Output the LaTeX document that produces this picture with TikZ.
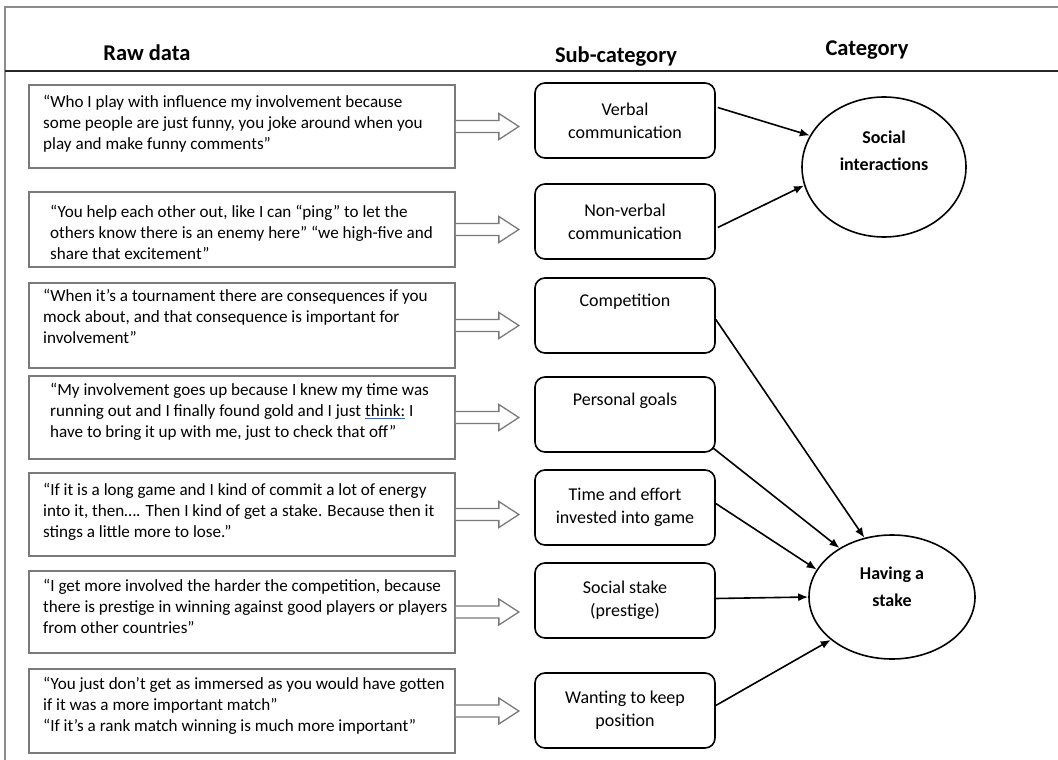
\documentclass[tikz,border=0pt]{standalone}
\usepackage{fontspec}
\setmainfont{Carlito}
\usetikzlibrary{calc,shapes.geometric,arrows.meta}

\definecolor{framegray}{HTML}{8C8C8C}
\definecolor{boxgray}{HTML}{7A7A7A}
\definecolor{markblue}{HTML}{3F64B0}

% word with a thin blue underline
\newsavebox\markbox
\newcommand\markword[1]{\sbox\markbox{#1}%
  \rlap{\color{markblue}\rule[-2.6pt]{\wd\markbox}{1pt}}\usebox\markbox}

% block arrow leaving the east side of a quotation box
\newcommand\rawarrow[1]{%
  \draw[blockarrow] ($(#1.east)+(0,-6)$) -- ++(43,0) -- ++(0,-7)
    -- ++(20,13) -- ++(-20,13) -- ++(0,-7) -- ++(-43,0);}

\tikzset{
  head/.style={font=\bfseries\fontsize{22.5}{26}\selectfont, inner sep=0pt},
  rawbox/.style={draw=boxgray, line width=1.7pt, minimum width=426pt,
    minimum height=#1, inner sep=0pt},
  rawtext/.style={anchor=west, align=left, inner sep=0pt,
    font=\fontsize{17.1}{21}\selectfont},
  blockarrow/.style={draw=boxgray, line width=1.3pt, line join=miter, fill=white},
  subbox/.style={draw, line width=1.6pt, rounded corners=10pt,
    minimum width=180pt, minimum height=75pt, inner sep=0pt, align=center,
    font=\fontsize{18}{23}\selectfont},
  catell/.style={draw, ellipse, line width=1.6pt, inner sep=0pt},
  cattext/.style={inner sep=0pt, align=center,
    font=\bfseries\fontsize{18}{27}\selectfont},
  link/.style={-{Latex[length=10pt,width=8pt]}, line width=1.6pt},
}

\begin{document}
\begin{tikzpicture}[x=1pt,y=-1pt]
  \useasboundingbox (0,0) rectangle (1058,760);

  % frame and header rule
  \draw[framegray, line width=2pt] (5,760) -- (5,7) -- (1058,7);
  \draw[black!85, line width=1.3pt] (5,71) -- (1058,71);

  % column headings
  \node[head] (hraw) at (147,53) {Raw data};
  \node[head] (hsub) at (616,57) {Sub-category};
  \node[head] (hcat) at (867,50) {Category};

  % quotation boxes
  \node[rawbox=83pt] (r1) at (242,126.5) {};
  \node[rawbox=75pt] (r2) at (242,229.5) {};
  \node[rawbox=85pt] (r3) at (242,325.5) {};
  \node[rawbox=83pt] (r4) at (242,417.5) {};
  \node[rawbox=83pt] (r5) at (242,514.5) {};
  \node[rawbox=82pt] (r6) at (242,612) {};
  \node[rawbox=84pt] (r7) at (242,711) {};

  \node[rawtext] (t1) at (43,124) {“Who I play with influence my involvement because\\some people are just funny, you joke around when you\\play and make funny comments”};
  \node[rawtext] (t2) at (50,232) {“You help each other out, like I can “ping” to let the\\others know there is an enemy here” “we high-five and\\share that excitement”};
  \node[rawtext] (t3) at (43,316) {“When it’s a tournament there are consequences if you\\mock about, and that consequence is important for\\involvement”};
  \node[rawtext] (t4) at (50,412) {“My involvement goes up because I knew my time was\\running out and I finally found gold and I just \markword{think:} I\\have to bring it up with me, just to check that off”};
  \node[rawtext] (t5) at (43,512) {“If it is a long game and I kind of commit a lot of energy\\into it, then…. Then I kind of get a stake. Because then it\\stings a little more to lose.”};
  \node[rawtext] (t6) at (43,606) {“I get more involved the harder the competition, because\\there is prestige in winning against good players or players\\from other countries”};
  \node[rawtext] (t7) at (43,706) {“You just don’t get as immersed as you would have gotten\\if it was a more important match”\\“If it’s a rank match winning is much more important”};

  \foreach \r in {r1,r2,r3,r4,r5,r6,r7} {\rawarrow{\r}}

  % sub-categories
  \node[subbox] (s1) at (625,120.5) {Verbal\\communication};
  \node[subbox] (s2) at (625,221.5) {Non-verbal\\communication};
  \node[subbox] (s3) at (625,315.5) {Competition\\\strut};
  \node[subbox] (s4) at (625,414.5) {Personal goals\\\strut};
  \node[subbox] (s5) at (625,507.5) {Time and effort\\invested into game};
  \node[subbox] (s6) at (625,600.5) {Social stake\\(prestige)};
  \node[subbox] (s7) at (625,710.5) {Wanting to keep\\position};

  % categories
  \node[catell, minimum width=164pt, minimum height=140pt] (soc) at (884,167) {};
  \node[cattext] (soctext) at (884,151) {Social\\interactions};
  \node[catell, minimum width=166pt, minimum height=124pt] (stake) at (892,597) {};
  \node[cattext] (staketext) at (892,587) {Having a\\stake};

  % links
  \draw[link] ($(s1.east)+(2,-13)$) -- (soc.157);
  \draw[link] ($(s2.east)+(2,6)$) -- (soc.193);
  \draw[link] ($(s3.east)+(0,4)$) -- (stake.115);
  \draw[link] ($(s4.south east)+(-3,-5)$) -- (stake.137);
  \draw[link] ($(s5.east)+(0,-4)$) -- (stake.160);
  \draw[link] ($(s6.east)+(0,-2)$) -- (stake.180);
  \draw[link] ($(s7.east)+(0,-5)$) -- (stake.215);
\end{tikzpicture}
\end{document}
